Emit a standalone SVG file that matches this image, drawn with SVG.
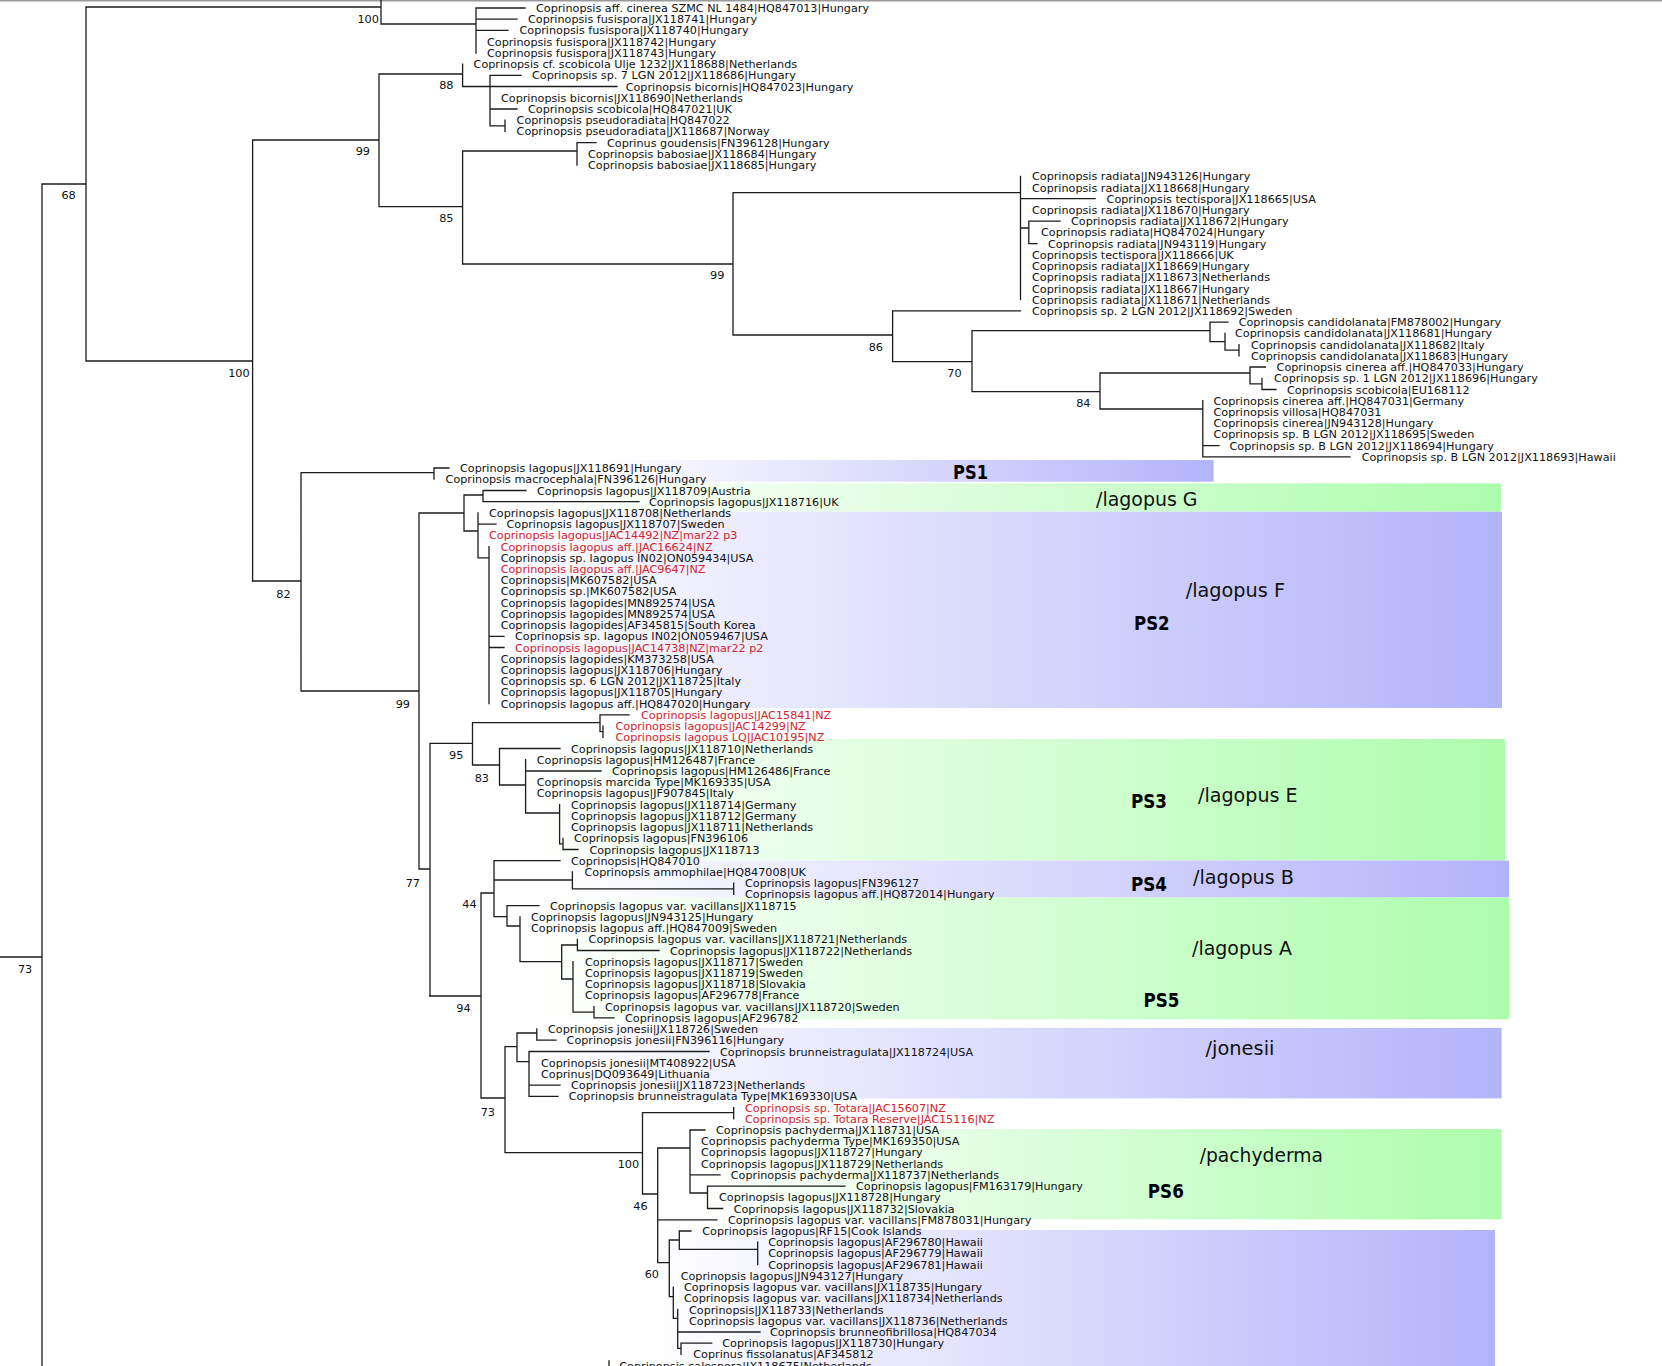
<svg xmlns="http://www.w3.org/2000/svg" width="1662" height="1366" viewBox="0 0 1662 1366">
<style>
.t{font-family:"DejaVu Sans",Verdana,sans-serif;font-size:11.2px;fill:#111}
.r{fill:#d3242c}
.n{font-family:"DejaVu Sans",Verdana,sans-serif;font-size:11.3px;fill:#111;text-anchor:end}
.cl{font-family:"DejaVu Sans",Verdana,sans-serif;font-size:20px;fill:#111}
.ps{font-family:"DejaVu Sans",Verdana,sans-serif;font-size:19.5px;font-weight:bold;fill:#000}
.br{fill:none;stroke:#1c1c1c;stroke-width:1.3;stroke-linecap:square}
</style>
<defs>
<linearGradient id="gb" x1="0" y1="0" x2="1" y2="0"><stop offset="0" stop-color="#ffffff"/><stop offset="1" stop-color="#b3b3fa"/></linearGradient>
<linearGradient id="gg" x1="0" y1="0" x2="1" y2="0"><stop offset="0" stop-color="#ffffff"/><stop offset="1" stop-color="#adfdad"/></linearGradient>
</defs>
<rect width="1662" height="1366" fill="#ffffff"/>
<line x1="0" y1="0.8" x2="1662" y2="0.8" stroke="#9a9a9a" stroke-width="1.6"/>
<g id="clades">
<g id="clade-PS1"><rect x="600" y="460" width="613.6" height="21.7" fill="url(#gb)"/><text class="ps" x="953" y="478.8" textLength="35" lengthAdjust="spacingAndGlyphs">PS1</text></g>
<g id="clade-lagopusG"><rect x="560" y="483.3" width="941" height="28.4" fill="url(#gg)"/><text class="cl" x="1096" y="506.2" textLength="101.5" lengthAdjust="spacingAndGlyphs">/lagopus G</text></g>
<g id="clade-PS2"><rect x="483" y="511.7" width="1019" height="196.3" fill="url(#gb)"/><text class="cl" x="1185.7" y="597.2" textLength="99.3" lengthAdjust="spacingAndGlyphs">/lagopus F</text><text class="ps" x="1134" y="630.1" textLength="35.6" lengthAdjust="spacingAndGlyphs">PS2</text></g>
<g id="clade-PS3"><rect x="530" y="739" width="975" height="121.5" fill="url(#gg)"/><text class="ps" x="1131" y="807.7" textLength="36" lengthAdjust="spacingAndGlyphs">PS3</text><text class="cl" x="1198" y="802.3" textLength="99.6" lengthAdjust="spacingAndGlyphs">/lagopus E</text></g>
<g id="clade-PS4"><rect x="560" y="860.5" width="949" height="37" fill="url(#gb)"/><text class="ps" x="1131" y="890.6" textLength="36" lengthAdjust="spacingAndGlyphs">PS4</text><text class="cl" x="1193" y="883.9" textLength="101" lengthAdjust="spacingAndGlyphs">/lagopus B</text></g>
<g id="clade-PS5"><rect x="530" y="897.5" width="979" height="121.9" fill="url(#gg)"/><text class="cl" x="1192" y="955.2" textLength="100" lengthAdjust="spacingAndGlyphs">/lagopus A</text><text class="ps" x="1143.5" y="1007.1" textLength="36" lengthAdjust="spacingAndGlyphs">PS5</text></g>
<g id="clade-jonesii"><rect x="560" y="1027.9" width="941.6" height="70.5" fill="url(#gb)"/><text class="cl" x="1205.6" y="1055" textLength="68.8" lengthAdjust="spacingAndGlyphs">/jonesii</text></g>
<g id="clade-PS6"><rect x="690" y="1129" width="811.6" height="90.4" fill="url(#gg)"/><text class="cl" x="1199.7" y="1162.1" textLength="123.3" lengthAdjust="spacingAndGlyphs">/pachyderma</text><text class="ps" x="1147.8" y="1197.6" textLength="36" lengthAdjust="spacingAndGlyphs">PS6</text></g>
<g id="clade-lower"><rect x="650" y="1230" width="845" height="140" fill="url(#gb)"/></g>
</g>
<g id="connectors">
<path class="br" d="M0 957H42M42 184V1366M42 184H86M86 7V361M86 7H381M381 0V24M381 24H476M476 8V53M476 8H525M476 19.2H517M476 30.4H508M86 361H252.6M252.6 140V581M252.6 140H379M379 74V206.7M379 74H462.6M462.6 64.1V86.5M462.6 86.5H617M490 75.3V125.8M490 75.3H521M490 109H517M490 125.8H505M505 120.2V131.4M379 206.7H462.6M462.6 151V264M462.6 151H577M577 142.6V165.1M577 142.6H596M462.6 264H733M733 192.7V335M733 192.7H1020.5M1020.5 176.3V299.7M1020.5 198.7H1095M1020.5 228H1028.8M1028.8 221.2V243.6M1028.8 221.2H1060M1028.8 243.6H1037M733 335H892.6M892.6 310.9V361.6M892.6 310.9H1020.5M892.6 361.6H972M972 330.7V391.7M972 330.7H1210M1210 322.2V341.7M1210 322.2H1228M1210 341.7H1225M1225 333.4V350.2M1225 350.2H1239M1239 344.6V355.8M972 391.7H1100M1100 373V409M1100 373H1250M1250 367V383.9M1250 367H1265.5M1250 383.9H1262M1262 378.3V389.5M1262 389.5H1276M1100 409H1202.8M1202.8 400.7V456.8M1202.8 445.6H1219M1202.8 456.8H1350"/>
<path class="br" d="M252.6 581H301M301 472.7V691M301 472.7H434M434 468V479.2M434 468H449M301 691H419M419 513V869M419 513H464M464 495V531M464 495H483M483 490.5V501.7M483 490.5H526M483 501.7H639M464 531H478M478 512.9V557.8M478 524.1H496M478 557.8H489M489 546.6V703.6M489 636.3H504M489 647.5H504M419 869H430M430 743.3V996M430 743.3H472.5M472.5 722.7V765M472.5 722.7H600M600 714.9V731.7M600 714.9H629M600 731.7H603M603 726.1V737.3M472.5 765H499.5M499.5 748.5V785M499.5 748.5H560M499.5 785H525.6M525.6 759.7V813M525.6 771H601M525.6 813H559.6M559.6 804.6V843.9M559.6 843.9H563M563 838.3V849.5M563 849.5H578"/>
<path class="br" d="M430 996H481M481 893V1098M481 893H494M494 860.7V916.7M494 860.7H560M494 880H572.4M572.4 871.9V888.8M572.4 888.8H733.7M733.7 883.2V894.4M494 916.7H507M507 905.6V926M507 905.6H539M507 926H520M520 916.8V961.7M520 961.7H561.7M561.7 945V979M561.7 945H577.4M577.4 939.3V950.5M577.4 950.5H659M561.7 979H573M573 961.7V1012.2M573 1012.2H594M594 1006.6V1017.8M594 1017.8H614M481 1098H505M505 1046.7V1152.7M505 1046.7H517M517 1033V1061.7M517 1033H536.8M536.8 1029V1040.2M536.8 1040.2H556M517 1061.7H529M529 1051.5V1096.3M529 1051.5H709M529 1085.1H560M529 1096.3H558M505 1152.7H642.5M642.5 1112.7V1194M642.5 1112.7H733.7M733.7 1107.6V1118.8M642.5 1194H657.7M657.7 1148V1262.7M657.7 1148H690M690 1130V1193M690 1130H705M690 1174.9H720M690 1193H707.5M707.5 1186.1V1208.5M707.5 1186.1H845M707.5 1208.5H722.7M657.7 1219.8H717M657.7 1262.7H669.3M669.3 1240V1296.7M669.3 1240H679.3M679.3 1231V1249.3M679.3 1231H691M679.3 1249.3H757.7M757.7 1242.2V1264.6M669.3 1296.7H673.3M673.3 1287.1V1318.3M673.3 1318.3H677.7M677.7 1309.5V1348.3M677.7 1332H760M677.7 1348.3H681M681 1343.2V1354.4M681 1343.2H711.7M609 1361V1366"/>
</g>
<g id="support-values">
<text class="n" x="379" y="22.8">100</text>
<text class="n" x="453.5" y="88.7">88</text>
<text class="n" x="370" y="155">99</text>
<text class="n" x="453.5" y="222">85</text>
<text class="n" x="724.4" y="279.3">99</text>
<text class="n" x="883" y="350.7">86</text>
<text class="n" x="961.7" y="376.7">70</text>
<text class="n" x="1090.5" y="407">84</text>
<text class="n" x="75.8" y="199">68</text>
<text class="n" x="249.7" y="376.7">100</text>
<text class="n" x="290.7" y="597.5">82</text>
<text class="n" x="410" y="708">99</text>
<text class="n" x="463.4" y="759.3">95</text>
<text class="n" x="489" y="781.7">83</text>
<text class="n" x="420" y="886.8">77</text>
<text class="n" x="476.7" y="908.3">44</text>
<text class="n" x="470.7" y="1012.4">94</text>
<text class="n" x="495" y="1115.8">73</text>
<text class="n" x="639.2" y="1168.3">100</text>
<text class="n" x="647.7" y="1210">46</text>
<text class="n" x="659" y="1278.3">60</text>
<text class="n" x="32.3" y="972.5">73</text>
</g>
<g id="leaves">
<g id="leaf-0"><text class="t" x="536" y="12">Coprinopsis aff. cinerea SZMC NL 1484|HQ847013|Hungary</text></g>
<g id="leaf-1"><text class="t" x="528" y="23.2">Coprinopsis fusispora|JX118741|Hungary</text></g>
<g id="leaf-2"><text class="t" x="519.5" y="34.4">Coprinopsis fusispora|JX118740|Hungary</text></g>
<g id="leaf-3"><text class="t" x="487" y="45.7">Coprinopsis fusispora|JX118742|Hungary</text></g>
<g id="leaf-4"><text class="t" x="487" y="56.9">Coprinopsis fusispora|JX118743|Hungary</text></g>
<g id="leaf-5"><text class="t" x="473.6" y="68.1">Coprinopsis cf. scobicola Ulje 1232|JX118688|Netherlands</text></g>
<g id="leaf-6"><text class="t" x="532" y="79.3">Coprinopsis sp. 7 LGN 2012|JX118686|Hungary</text></g>
<g id="leaf-7"><text class="t" x="625.7" y="90.5">Coprinopsis bicornis|HQ847023|Hungary</text></g>
<g id="leaf-8"><text class="t" x="501" y="101.8">Coprinopsis bicornis|JX118690|Netherlands</text></g>
<g id="leaf-9"><text class="t" x="528" y="113">Coprinopsis scobicola|HQ847021|UK</text></g>
<g id="leaf-10"><text class="t" x="516.6" y="124.2">Coprinopsis pseudoradiata|HQ847022</text></g>
<g id="leaf-11"><text class="t" x="516.6" y="135.4">Coprinopsis pseudoradiata|JX118687|Norway</text></g>
<g id="leaf-12"><text class="t" x="607" y="146.6">Coprinus goudensis|FN396128|Hungary</text></g>
<g id="leaf-13"><text class="t" x="588" y="157.9">Coprinopsis babosiae|JX118684|Hungary</text></g>
<g id="leaf-14"><text class="t" x="588" y="169.1">Coprinopsis babosiae|JX118685|Hungary</text></g>
<g id="leaf-15"><text class="t" x="1032" y="180.3">Coprinopsis radiata|JN943126|Hungary</text></g>
<g id="leaf-16"><text class="t" x="1032" y="191.5">Coprinopsis radiata|JX118668|Hungary</text></g>
<g id="leaf-17"><text class="t" x="1106.6" y="202.7">Coprinopsis tectispora|JX118665|USA</text></g>
<g id="leaf-18"><text class="t" x="1032" y="214">Coprinopsis radiata|JX118670|Hungary</text></g>
<g id="leaf-19"><text class="t" x="1071" y="225.2">Coprinopsis radiata|JX118672|Hungary</text></g>
<g id="leaf-20"><text class="t" x="1041" y="236.4">Coprinopsis radiata|HQ847024|Hungary</text></g>
<g id="leaf-21"><text class="t" x="1048" y="247.6">Coprinopsis radiata|JN943119|Hungary</text></g>
<g id="leaf-22"><text class="t" x="1032" y="258.8">Coprinopsis tectispora|JX118666|UK</text></g>
<g id="leaf-23"><text class="t" x="1032" y="270.1">Coprinopsis radiata|JX118669|Hungary</text></g>
<g id="leaf-24"><text class="t" x="1032" y="281.3">Coprinopsis radiata|JX118673|Netherlands</text></g>
<g id="leaf-25"><text class="t" x="1032" y="292.5">Coprinopsis radiata|JX118667|Hungary</text></g>
<g id="leaf-26"><text class="t" x="1032" y="303.7">Coprinopsis radiata|JX118671|Netherlands</text></g>
<g id="leaf-27"><text class="t" x="1032" y="314.9">Coprinopsis sp. 2 LGN 2012|JX118692|Sweden</text></g>
<g id="leaf-28"><text class="t" x="1238.7" y="326.2">Coprinopsis candidolanata|FM878002|Hungary</text></g>
<g id="leaf-29"><text class="t" x="1235" y="337.4">Coprinopsis candidolanata|JX118681|Hungary</text></g>
<g id="leaf-30"><text class="t" x="1251" y="348.6">Coprinopsis candidolanata|JX118682|Italy</text></g>
<g id="leaf-31"><text class="t" x="1251" y="359.8">Coprinopsis candidolanata|JX118683|Hungary</text></g>
<g id="leaf-32"><text class="t" x="1276.6" y="371">Coprinopsis cinerea aff.|HQ847033|Hungary</text></g>
<g id="leaf-33"><text class="t" x="1274" y="382.3">Coprinopsis sp. 1 LGN 2012|JX118696|Hungary</text></g>
<g id="leaf-34"><text class="t" x="1287" y="393.5">Coprinopsis scobicola|EU168112</text></g>
<g id="leaf-35"><text class="t" x="1213.5" y="404.7">Coprinopsis cinerea aff.|HQ847031|Germany</text></g>
<g id="leaf-36"><text class="t" x="1213.5" y="415.9">Coprinopsis villosa|HQ847031</text></g>
<g id="leaf-37"><text class="t" x="1213.5" y="427.1">Coprinopsis cinerea|JN943128|Hungary</text></g>
<g id="leaf-38"><text class="t" x="1213.5" y="438.4">Coprinopsis sp. B LGN 2012|JX118695|Sweden</text></g>
<g id="leaf-39"><text class="t" x="1229.5" y="449.6">Coprinopsis sp. B LGN 2012|JX118694|Hungary</text></g>
<g id="leaf-40"><text class="t" x="1361.7" y="460.8">Coprinopsis sp. B LGN 2012|JX118693|Hawaii</text></g>
<g id="leaf-41"><text class="t" x="460" y="472">Coprinopsis lagopus|JX118691|Hungary</text></g>
<g id="leaf-42"><text class="t" x="445.6" y="483.2">Coprinopsis macrocephala|FN396126|Hungary</text></g>
<g id="leaf-43"><text class="t" x="537" y="494.5">Coprinopsis lagopus|JX118709|Austria</text></g>
<g id="leaf-44"><text class="t" x="649" y="505.7">Coprinopsis lagopus|JX118716|UK</text></g>
<g id="leaf-45"><text class="t" x="489" y="516.9">Coprinopsis lagopus|JX118708|Netherlands</text></g>
<g id="leaf-46"><text class="t" x="506.5" y="528.1">Coprinopsis lagopus|JX118707|Sweden</text></g>
<g id="leaf-47"><text class="t r" x="489" y="539.3">Coprinopsis lagopus|JAC14492|NZ|mar22 p3</text></g>
<g id="leaf-48"><text class="t r" x="500.7" y="550.6">Coprinopsis lagopus aff.|JAC16624|NZ</text></g>
<g id="leaf-49"><text class="t" x="500.7" y="561.8">Coprinopsis sp. lagopus IN02|ON059434|USA</text></g>
<g id="leaf-50"><text class="t r" x="500.7" y="573">Coprinopsis lagopus aff.|JAC9647|NZ</text></g>
<g id="leaf-51"><text class="t" x="500.7" y="584.2">Coprinopsis|MK607582|USA</text></g>
<g id="leaf-52"><text class="t" x="500.7" y="595.4">Coprinopsis sp.|MK607582|USA</text></g>
<g id="leaf-53"><text class="t" x="500.7" y="606.7">Coprinopsis lagopides|MN892574|USA</text></g>
<g id="leaf-54"><text class="t" x="500.7" y="617.9">Coprinopsis lagopides|MN892574|USA</text></g>
<g id="leaf-55"><text class="t" x="500.7" y="629.1">Coprinopsis lagopides|AF345815|South Korea</text></g>
<g id="leaf-56"><text class="t" x="515" y="640.3">Coprinopsis sp. lagopus IN02|ON059467|USA</text></g>
<g id="leaf-57"><text class="t r" x="515" y="651.5">Coprinopsis lagopus|JAC14738|NZ|mar22 p2</text></g>
<g id="leaf-58"><text class="t" x="500.7" y="662.8">Coprinopsis lagopides|KM373258|USA</text></g>
<g id="leaf-59"><text class="t" x="500.7" y="674">Coprinopsis lagopus|JX118706|Hungary</text></g>
<g id="leaf-60"><text class="t" x="500.7" y="685.2">Coprinopsis sp. 6 LGN 2012|JX118725|Italy</text></g>
<g id="leaf-61"><text class="t" x="500.7" y="696.4">Coprinopsis lagopus|JX118705|Hungary</text></g>
<g id="leaf-62"><text class="t" x="500.7" y="707.6">Coprinopsis lagopus aff.|HQ847020|Hungary</text></g>
<g id="leaf-63"><text class="t r" x="641" y="718.9">Coprinopsis lagopus|JAC15841|NZ</text></g>
<g id="leaf-64"><text class="t r" x="615.5" y="730.1">Coprinopsis lagopus|JAC14299|NZ</text></g>
<g id="leaf-65"><text class="t r" x="615.5" y="741.3">Coprinopsis lagopus LQ|JAC10195|NZ</text></g>
<g id="leaf-66"><text class="t" x="571" y="752.5">Coprinopsis lagopus|JX118710|Netherlands</text></g>
<g id="leaf-67"><text class="t" x="536.8" y="763.7">Coprinopsis lagopus|HM126487|France</text></g>
<g id="leaf-68"><text class="t" x="612" y="775">Coprinopsis lagopus|HM126486|France</text></g>
<g id="leaf-69"><text class="t" x="536.8" y="786.2">Coprinopsis marcida Type|MK169335|USA</text></g>
<g id="leaf-70"><text class="t" x="536.8" y="797.4">Coprinopsis lagopus|JF907845|Italy</text></g>
<g id="leaf-71"><text class="t" x="571" y="808.6">Coprinopsis lagopus|JX118714|Germany</text></g>
<g id="leaf-72"><text class="t" x="571" y="819.8">Coprinopsis lagopus|JX118712|Germany</text></g>
<g id="leaf-73"><text class="t" x="571" y="831.1">Coprinopsis lagopus|JX118711|Netherlands</text></g>
<g id="leaf-74"><text class="t" x="574" y="842.3">Coprinopsis lagopus|FN396106</text></g>
<g id="leaf-75"><text class="t" x="589.4" y="853.5">Coprinopsis lagopus|JX118713</text></g>
<g id="leaf-76"><text class="t" x="571" y="864.7">Coprinopsis|HQ847010</text></g>
<g id="leaf-77"><text class="t" x="584.5" y="875.9">Coprinopsis ammophilae|HQ847008|UK</text></g>
<g id="leaf-78"><text class="t" x="745" y="887.2">Coprinopsis lagopus|FN396127</text></g>
<g id="leaf-79"><text class="t" x="745" y="898.4">Coprinopsis lagopus aff.|HQ872014|Hungary</text></g>
<g id="leaf-80"><text class="t" x="550" y="909.6">Coprinopsis lagopus var. vacillans|JX118715</text></g>
<g id="leaf-81"><text class="t" x="531" y="920.8">Coprinopsis lagopus|JN943125|Hungary</text></g>
<g id="leaf-82"><text class="t" x="531" y="932">Coprinopsis lagopus aff.|HQ847009|Sweden</text></g>
<g id="leaf-83"><text class="t" x="588.6" y="943.3">Coprinopsis lagopus var. vacillans|JX118721|Netherlands</text></g>
<g id="leaf-84"><text class="t" x="670" y="954.5">Coprinopsis lagopus|JX118722|Netherlands</text></g>
<g id="leaf-85"><text class="t" x="585" y="965.7">Coprinopsis lagopus|JX118717|Sweden</text></g>
<g id="leaf-86"><text class="t" x="585" y="976.9">Coprinopsis lagopus|JX118719|Sweden</text></g>
<g id="leaf-87"><text class="t" x="585" y="988.1">Coprinopsis lagopus|JX118718|Slovakia</text></g>
<g id="leaf-88"><text class="t" x="585" y="999.4">Coprinopsis lagopus|AF296778|France</text></g>
<g id="leaf-89"><text class="t" x="605" y="1010.6">Coprinopsis lagopus var. vacillans|JX118720|Sweden</text></g>
<g id="leaf-90"><text class="t" x="625" y="1021.8">Coprinopsis lagopus|AF296782</text></g>
<g id="leaf-91"><text class="t" x="548" y="1033">Coprinopsis jonesii|JX118726|Sweden</text></g>
<g id="leaf-92"><text class="t" x="566.6" y="1044.2">Coprinopsis jonesii|FN396116|Hungary</text></g>
<g id="leaf-93"><text class="t" x="720" y="1055.5">Coprinopsis brunneistragulata|JX118724|USA</text></g>
<g id="leaf-94"><text class="t" x="541" y="1066.7">Coprinopsis jonesii|MT408922|USA</text></g>
<g id="leaf-95"><text class="t" x="541" y="1077.9">Coprinus|DQ093649|Lithuania</text></g>
<g id="leaf-96"><text class="t" x="571" y="1089.1">Coprinopsis jonesii|JX118723|Netherlands</text></g>
<g id="leaf-97"><text class="t" x="568.7" y="1100.3">Coprinopsis brunneistragulata Type|MK169330|USA</text></g>
<g id="leaf-98"><text class="t r" x="745" y="1111.6">Coprinopsis sp. Totara|JAC15607|NZ</text></g>
<g id="leaf-99"><text class="t r" x="745" y="1122.8">Coprinopsis sp. Totara Reserve|JAC15116|NZ</text></g>
<g id="leaf-100"><text class="t" x="716" y="1134">Coprinopsis pachyderma|JX118731|USA</text></g>
<g id="leaf-101"><text class="t" x="701" y="1145.2">Coprinopsis pachyderma Type|MK169350|USA</text></g>
<g id="leaf-102"><text class="t" x="701" y="1156.4">Coprinopsis lagopus|JX118727|Hungary</text></g>
<g id="leaf-103"><text class="t" x="701" y="1167.7">Coprinopsis lagopus|JX118729|Netherlands</text></g>
<g id="leaf-104"><text class="t" x="730.8" y="1178.9">Coprinopsis pachyderma|JX118737|Netherlands</text></g>
<g id="leaf-105"><text class="t" x="856" y="1190.1">Coprinopsis lagopus|FM163179|Hungary</text></g>
<g id="leaf-106"><text class="t" x="719" y="1201.3">Coprinopsis lagopus|JX118728|Hungary</text></g>
<g id="leaf-107"><text class="t" x="733.7" y="1212.5">Coprinopsis lagopus|JX118732|Slovakia</text></g>
<g id="leaf-108"><text class="t" x="728" y="1223.8">Coprinopsis lagopus var. vacillans|FM878031|Hungary</text></g>
<g id="leaf-109"><text class="t" x="702.3" y="1235">Coprinopsis lagopus|RF15|Cook Islands</text></g>
<g id="leaf-110"><text class="t" x="768.3" y="1246.2">Coprinopsis lagopus|AF296780|Hawaii</text></g>
<g id="leaf-111"><text class="t" x="768.3" y="1257.4">Coprinopsis lagopus|AF296779|Hawaii</text></g>
<g id="leaf-112"><text class="t" x="768.3" y="1268.6">Coprinopsis lagopus|AF296781|Hawaii</text></g>
<g id="leaf-113"><text class="t" x="680.7" y="1279.9">Coprinopsis lagopus|JN943127|Hungary</text></g>
<g id="leaf-114"><text class="t" x="684" y="1291.1">Coprinopsis lagopus var. vacillans|JX118735|Hungary</text></g>
<g id="leaf-115"><text class="t" x="684" y="1302.3">Coprinopsis lagopus var. vacillans|JX118734|Netherlands</text></g>
<g id="leaf-116"><text class="t" x="689" y="1313.5">Coprinopsis|JX118733|Netherlands</text></g>
<g id="leaf-117"><text class="t" x="689" y="1324.7">Coprinopsis lagopus var. vacillans|JX118736|Netherlands</text></g>
<g id="leaf-118"><text class="t" x="770" y="1336">Coprinopsis brunneofibrillosa|HQ847034</text></g>
<g id="leaf-119"><text class="t" x="722.3" y="1347.2">Coprinopsis lagopus|JX118730|Hungary</text></g>
<g id="leaf-120"><text class="t" x="693.3" y="1358.4">Coprinus fissolanatus|AF345812</text></g>
<g id="leaf-121"><text class="t" x="619.3" y="1369.6">Coprinopsis calospora|JX118675|Netherlands</text></g>
</g>
</svg>
